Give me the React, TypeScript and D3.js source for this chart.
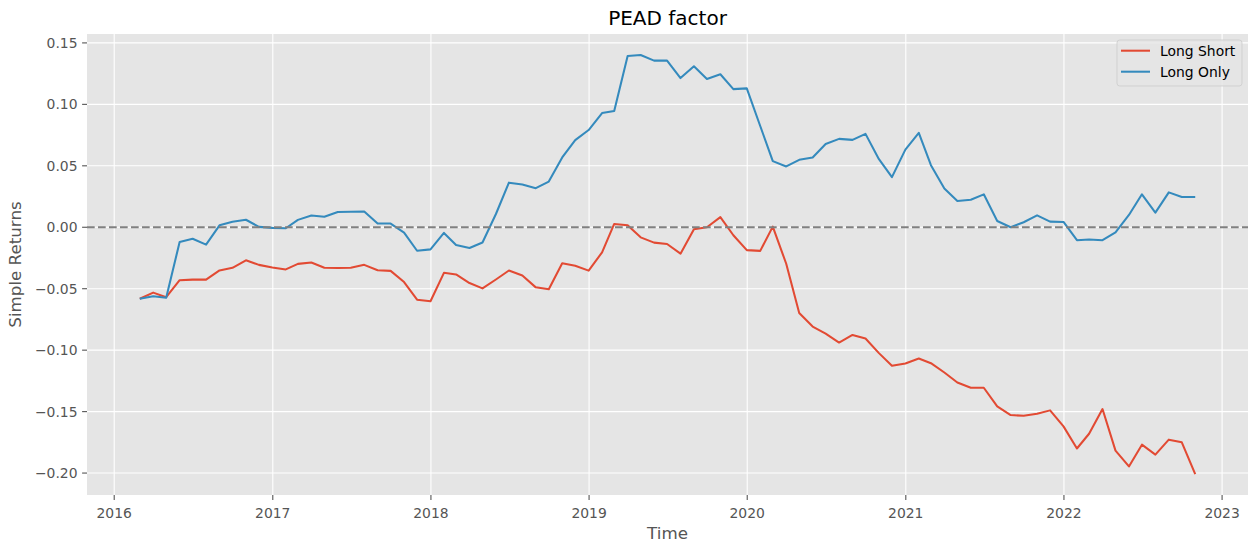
import React from 'react';
import * as d3 from 'd3';

// Month-end observations, first one is end of Feb 2016
const startYear = 2016;
const startMonthIndex = 1; // February (0-based)

const longShort = [
  -0.0582, -0.0532, -0.0569, -0.0431, -0.0426, -0.0426, -0.0351, -0.0330, -0.0269, -0.0306,
  -0.0327, -0.0343, -0.0298, -0.0287, -0.0330, -0.0332, -0.0330, -0.0306, -0.0350, -0.0355,
  -0.0446, -0.0589, -0.0602, -0.0371, -0.0384, -0.0454, -0.0497, -0.0425, -0.0352, -0.0393,
  -0.0489, -0.0505, -0.0293, -0.0313, -0.0353, -0.0204, 0.0027, 0.0016, -0.0082, -0.0125,
  -0.0136, -0.0215, -0.0016, 0.0000, 0.0082, -0.0065, -0.0186, -0.0192, 0.0005, -0.0297,
  -0.0697, -0.0808, -0.0865, -0.0938, -0.0876, -0.0905, -0.1024, -0.1127, -0.1108, -0.1068,
  -0.1106, -0.1182, -0.1263, -0.1306, -0.1306, -0.1458, -0.1528, -0.1534, -0.1518, -0.1490,
  -0.1620, -0.1800, -0.1680, -0.1479, -0.1817, -0.1946, -0.1769, -0.1850, -0.1728, -0.1750,
  -0.2008,
];

const longOnly = [
  -0.0582, -0.0561, -0.0574, -0.0120, -0.0093, -0.0141, 0.0016, 0.0045, 0.0061, 0.0003,
  -0.0005, -0.0008, 0.0060, 0.0096, 0.0085, 0.0124, 0.0126, 0.0129, 0.0030, 0.0030,
  -0.0043, -0.0191, -0.0180, -0.0046, -0.0145, -0.0169, -0.0124, 0.0108, 0.0363, 0.0348,
  0.0318, 0.0372, 0.0568, 0.0709, 0.0791, 0.0929, 0.0946, 0.1394, 0.1402, 0.1356,
  0.1356, 0.1214, 0.1310, 0.1207, 0.1245, 0.1124, 0.1130, 0.0824, 0.0538, 0.0495,
  0.0549, 0.0568, 0.0678, 0.0719, 0.0711, 0.0760, 0.0554, 0.0408, 0.0632, 0.0768,
  0.0505, 0.0316, 0.0214, 0.0224, 0.0268, 0.0051, 0.0000, 0.0041, 0.0097, 0.0046,
  0.0043, -0.0105, -0.0100, -0.0105, -0.0041, 0.0100, 0.0268, 0.0119, 0.0284, 0.0246,
  0.0246,
];

const yTicks = [-0.2, -0.15, -0.1, -0.05, 0.0, 0.05, 0.1, 0.15];
const xTickYears = [2016, 2017, 2018, 2019, 2020, 2021, 2022, 2023];

const seriesNames = ['Long Short', 'Long Only'];
const seriesColors = ['#E24A33', '#348ABD'];

const W = 1258;
const H = 552;
const plot = { left: 87, right: 1248, top: 34, bottom: 495 };
const FONT = 'DejaVu Sans, sans-serif';

export default function App() {
  const dates = longShort.map((_, i) =>
    d3.timeDay.offset(d3.timeMonth.offset(new Date(startYear, startMonthIndex + 1, 1), i), -1)
  );
  const [d0, d1] = d3.extent(dates) as [Date, Date];
  const span = +d1 - +d0;
  const x = d3
    .scaleTime()
    .domain([new Date(+d0 - span * 0.05), new Date(+d1 + span * 0.05)])
    .range([plot.left, plot.right]);

  const all = [...longShort, ...longOnly];
  const [v0, v1] = d3.extent(all) as [number, number];
  const vs = v1 - v0;
  const y = d3
    .scaleLinear()
    .domain([v0 - vs * 0.05, v1 + vs * 0.05])
    .range([plot.bottom, plot.top]);

  const line = d3
    .line<number>()
    .x((_, i) => x(dates[i]))
    .y((d) => y(d));

  const series = [longShort, longOnly];
  const fmt = (v: number) => {
    const s = Math.abs(v).toFixed(2);
    return v < -1e-9 ? '\u2212' + s : s;
  };

  const legendX = 1117;
  const legendY = 40;

  return (
    <svg
      width={W}
      height={H}
      style={{ position: 'fixed', left: 0, top: 0, background: '#fff' }}
      fontFamily={FONT}
    >
      <rect x={plot.left} y={plot.top} width={plot.right - plot.left} height={plot.bottom - plot.top} fill="#E5E5E5" />
      {/* grid */}
      {yTicks.map((t) => (
        <line key={'gy' + t} x1={plot.left} x2={plot.right} y1={y(t)} y2={y(t)} stroke="#fff" strokeWidth={1.1} />
      ))}
      {xTickYears.map((yr) => {
        const xx = x(new Date(yr, 0, 1));
        return <line key={'gx' + yr} x1={xx} x2={xx} y1={plot.top} y2={plot.bottom} stroke="#fff" strokeWidth={1.1} />;
      })}
      {/* series */}
      {series.map((s, k) => (
        <path key={k} d={line(s) || ''} fill="none" stroke={seriesColors[k]} strokeWidth={2.05} strokeLinejoin="round" />
      ))}
      {/* zero line */}
      <line x1={plot.left} x2={plot.right} y1={y(0)} y2={y(0)} stroke="#808080" strokeWidth={2.05} strokeDasharray="7.7,3.3" />
      {/* y ticks */}
      {yTicks.map((t) => (
        <g key={'ty' + t}>
          <line x1={plot.left - 4.9} x2={plot.left} y1={y(t)} y2={y(t)} stroke="#555" strokeWidth={1.1} />
          <text x={plot.left - 9.5} y={y(t)} dy="0.36em" textAnchor="end" fontSize={13.9} fill="#555">
            {fmt(t)}
          </text>
        </g>
      ))}
      {/* x ticks */}
      {xTickYears.map((yr) => {
        const xx = x(new Date(yr, 0, 1));
        return (
          <g key={'tx' + yr}>
            <line x1={xx} x2={xx} y1={plot.bottom} y2={plot.bottom + 4.9} stroke="#555" strokeWidth={1.1} />
            <text x={xx} y={518} textAnchor="middle" fontSize={13.9} fill="#555">
              {yr}
            </text>
          </g>
        );
      })}
      {/* labels */}
      <text x={(plot.left + plot.right) / 2} y={25} textAnchor="middle" fontSize={20} fill="#000">
        PEAD factor
      </text>
      <text x={(plot.left + plot.right) / 2} y={539} textAnchor="middle" fontSize={16.7} fill="#555">
        Time
      </text>
      <text
        transform={`translate(21,${(plot.top + plot.bottom) / 2}) rotate(-90)`}
        textAnchor="middle"
        fontSize={16.7}
        fill="#555"
      >
        Simple Returns
      </text>
      {/* legend */}
      <rect
        x={legendX}
        y={legendY}
        width={125}
        height={46}
        rx={2.8}
        fill="#E5E5E5"
        fillOpacity={0.8}
        stroke="#CCCCCC"
        strokeOpacity={0.8}
        strokeWidth={1}
      />
      {seriesNames.map((n, k) => (
        <g key={n}>
          <line x1={1121} x2={1150} y1={50.7 + k * 21} y2={50.7 + k * 21} stroke={seriesColors[k]} strokeWidth={2.05} />
          <text x={1160} y={50.7 + k * 21} dy="0.36em" fontSize={13.9} fill="#000">
            {n}
          </text>
        </g>
      ))}
    </svg>
  );
}
